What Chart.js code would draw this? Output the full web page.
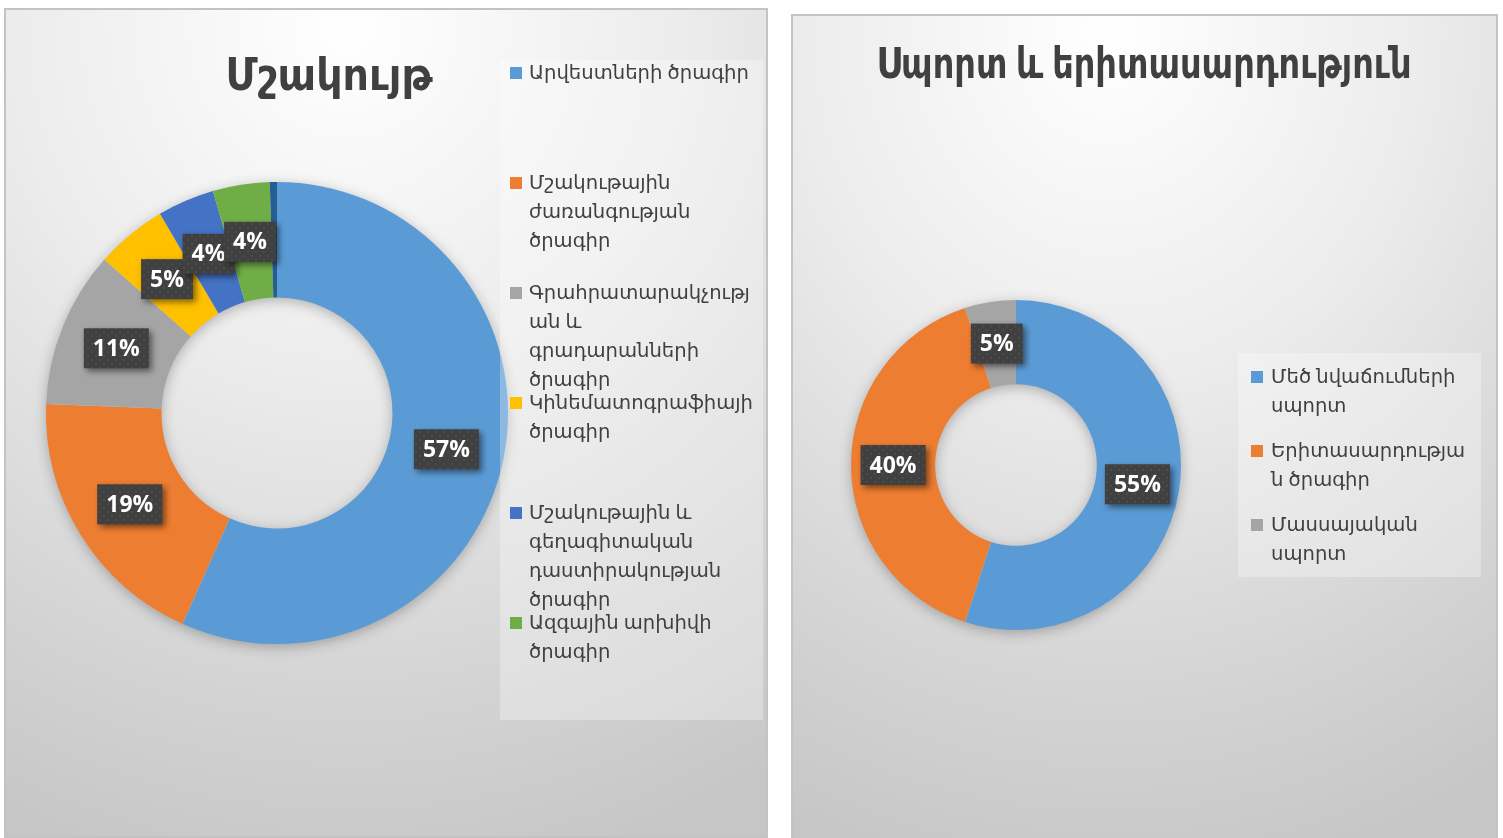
<!DOCTYPE html>
<html>
<head>
<meta charset="utf-8">
<script src="https://cdn.jsdelivr.net/npm/chart.js@4"></script>
<style>
  html, body { margin: 0; padding: 0; background: #fff; }
  body { width: 1503px; height: 838px; position: relative; overflow: hidden; }
  .panel {
    position: absolute; box-sizing: border-box; border: 2px solid #c3c3c3;
    background: radial-gradient(ellipse 110% 105% at 45% 2%, #ffffff 0%, #ececec 40%, #d3d3d3 78%, #c6c6c6 100%);
  }
  #p1 { left: 4px; top: 8px; width: 764px; height: 830px; }
  #p2 { left: 791px; top: 14px; width: 707px; height: 826px; }
  .panel div { position: absolute; left: 0; top: 0; right: 0; bottom: 0; }
</style>
</head>
<body>
<div class="panel" id="p1"><div><canvas id="culture"></canvas></div></div>
<div class="panel" id="p2"><div><canvas id="sport"></canvas></div></div>
<script>
// Մշակույթ
const cultureLabels = [
  'Արվեստների ծրագիր',
  'Մշակութային ժառանգության ծրագիր',
  'Գրահրատարակչության և գրադարանների ծրագիր',
  'Կինեմատոգրաֆիայի ծրագիր',
  'Մշակութային և գեղագիտական դաստիրակության ծրագիր',
  'Ազգային արխիվի ծրագիր',
  ''
];
const culturePercents = [57, 19, 11, 5, 4, 4, 0.5];
const cultureColors = ['#5B9BD5', '#ED7D31', '#A5A5A5', '#FFC000', '#4472C4', '#70AD47', '#255E91'];

// Սպորտ և երիտասարդություն
const sportLabels = ['Մեծ նվաճումների սպորտ', 'Երիտասարդության ծրագիր', 'Մասսայական սպորտ'];
const sportPercents = [55, 40, 5];
const sportColors = ['#5B9BD5', '#ED7D31', '#A5A5A5'];

// break into lines, splitting words that are too long by character
function wrapText(ctx, text, maxWidth) {
  const lines = [];
  let line = '';
  for (const word of text.split(' ')) {
    const trial = line ? line + ' ' + word : word;
    if (ctx.measureText(trial).width <= maxWidth) { line = trial; continue; }
    if (line && ctx.measureText(word).width <= maxWidth) { lines.push(line); line = word; continue; }
    let rest = line ? line + ' ' + word : word;
    line = '';
    for (const ch of rest) {
      if (ctx.measureText(line + ch).width > maxWidth) { lines.push(line); line = ch; }
      else line += ch;
    }
  }
  if (line) lines.push(line);
  return lines;
}

function dotPattern(ctx) {
  const c = document.createElement('canvas');
  c.width = 8; c.height = 8;
  const g = c.getContext('2d');
  g.fillStyle = '#404040'; g.fillRect(0, 0, 8, 8);
  g.fillStyle = '#4c4c4c';
  g.beginPath(); g.arc(2, 2, 1.2, 0, Math.PI * 2); g.fill();
  g.beginPath(); g.arc(6, 6, 1.2, 0, Math.PI * 2); g.fill();
  return ctx.createPattern(c, 'repeat');
}

const ringShadow = {
  id: 'ringShadow',
  beforeDatasetsDraw(chart) {
    const arc = chart.getDatasetMeta(0).data[0];
    if (!arc) return;
    const { x, y, innerRadius, outerRadius } = arc.getProps(['x', 'y', 'innerRadius', 'outerRadius'], true);
    const ctx = chart.ctx;
    ctx.save();
    ctx.shadowColor = 'rgba(0,0,0,0.3)';
    ctx.shadowBlur = 14;
    ctx.shadowOffsetY = 3;
    ctx.fillStyle = '#d8d8d8';
    ctx.beginPath();
    ctx.arc(x, y, outerRadius - 1, 0, Math.PI * 2);
    ctx.arc(x, y, innerRadius + 1, 0, Math.PI * 2, true);
    ctx.fill();
    ctx.restore();
  }
};

const percentBoxes = {
  id: 'percentBoxes',
  afterDatasetsDraw(chart) {
    const ctx = chart.ctx;
    const values = chart.data.datasets[0].data;
    const pattern = dotPattern(ctx);
    ctx.save();
    ctx.font = 'bold 23px "Open Sans"';
    ctx.textAlign = 'center';
    ctx.textBaseline = 'middle';
    chart.getDatasetMeta(0).data.forEach((arc, i) => {
      if (values[i] < 1) return;
      const text = values[i] + '%';
      const p = arc.getCenterPoint();
      const w = ctx.measureText(text).width + 18, h = 40;
      ctx.shadowColor = 'rgba(0,0,0,0.5)';
      ctx.shadowBlur = 6;
      ctx.shadowOffsetX = 3;
      ctx.shadowOffsetY = 3;
      ctx.fillStyle = pattern;
      ctx.fillRect(p.x - w / 2, p.y - h / 2, w, h);
      ctx.shadowColor = 'transparent';
      ctx.fillStyle = '#ffffff';
      ctx.fillText(text, p.x, p.y + 1);
    });
    ctx.restore();
  }
};

const panelTitle = {
  id: 'panelTitle',
  afterDraw(chart, args, opts) {
    const ctx = chart.ctx;
    ctx.save();
    ctx.font = 'bold ' + opts.size + 'px "Noto Sans", "DejaVu Sans"';
    ctx.fillStyle = '#404040';
    ctx.textAlign = 'center';
    ctx.textBaseline = 'alphabetic';
    ctx.fillText(opts.text, opts.x, opts.y, opts.width);
    ctx.restore();
  }
};

const sideLegend = {
  id: 'sideLegend',
  afterDraw(chart, args, opts) {
    const ctx = chart.ctx;
    const colors = chart.data.datasets[0].backgroundColor;
    ctx.save();
    ctx.fillStyle = 'rgba(255,255,255,0.3)';
    ctx.fillRect(opts.box[0], opts.box[1], opts.box[2], opts.box[3]);
    ctx.font = '19.6px "Noto Sans", "DejaVu Sans"';
    ctx.textBaseline = 'middle';
    chart.data.labels.forEach((label, i) => {
      if (!label) return;
      const y0 = opts.firstY + i * opts.step;
      ctx.fillStyle = colors[i];
      ctx.fillRect(opts.markX, y0 - 6, 12, 12);
      ctx.fillStyle = '#404040';
      wrapText(ctx, label, opts.maxWidth).forEach((line, k) => {
        ctx.fillText(line, opts.textX, y0 + k * 29);
      });
    });
    ctx.restore();
  }
};

function makeDoughnut(id, labels, values, colors, cutout, padding, title, legend) {
  return new Chart(document.getElementById(id), {
    type: 'doughnut',
    data: {
      labels: labels,
      datasets: [{ data: values, backgroundColor: colors, borderWidth: 0, hoverOffset: 0 }]
    },
    options: {
      responsive: true,
      maintainAspectRatio: false,
      animation: false,
      events: [],
      cutout: cutout,
      layout: { padding: padding },
      plugins: {
        legend: { display: false },
        tooltip: { enabled: false },
        panelTitle: title,
        sideLegend: legend
      }
    },
    plugins: [ringShadow, percentBoxes, panelTitle, sideLegend]
  });
}

makeDoughnut('culture', cultureLabels, culturePercents, cultureColors, '50%',
  { left: 40, right: 258, top: 172, bottom: 192 },
  { text: 'Մշակույթ', x: 323, y: 80, size: 44, width: 207 },
  { box: [494, 50, 263, 660], markX: 504, textX: 523, firstY: 63, step: 110, maxWidth: 225 });

makeDoughnut('sport', sportLabels, sportPercents, sportColors, '49%',
  { left: 58, right: 315, top: 284, bottom: 208 },
  { text: 'Սպորտ և երիտասարդություն', x: 351, y: 62, size: 42, width: 535 },
  { box: [445, 337, 243, 224], markX: 458, textX: 478, firstY: 361, step: 74, maxWidth: 200 });
</script>
</body>
</html>
